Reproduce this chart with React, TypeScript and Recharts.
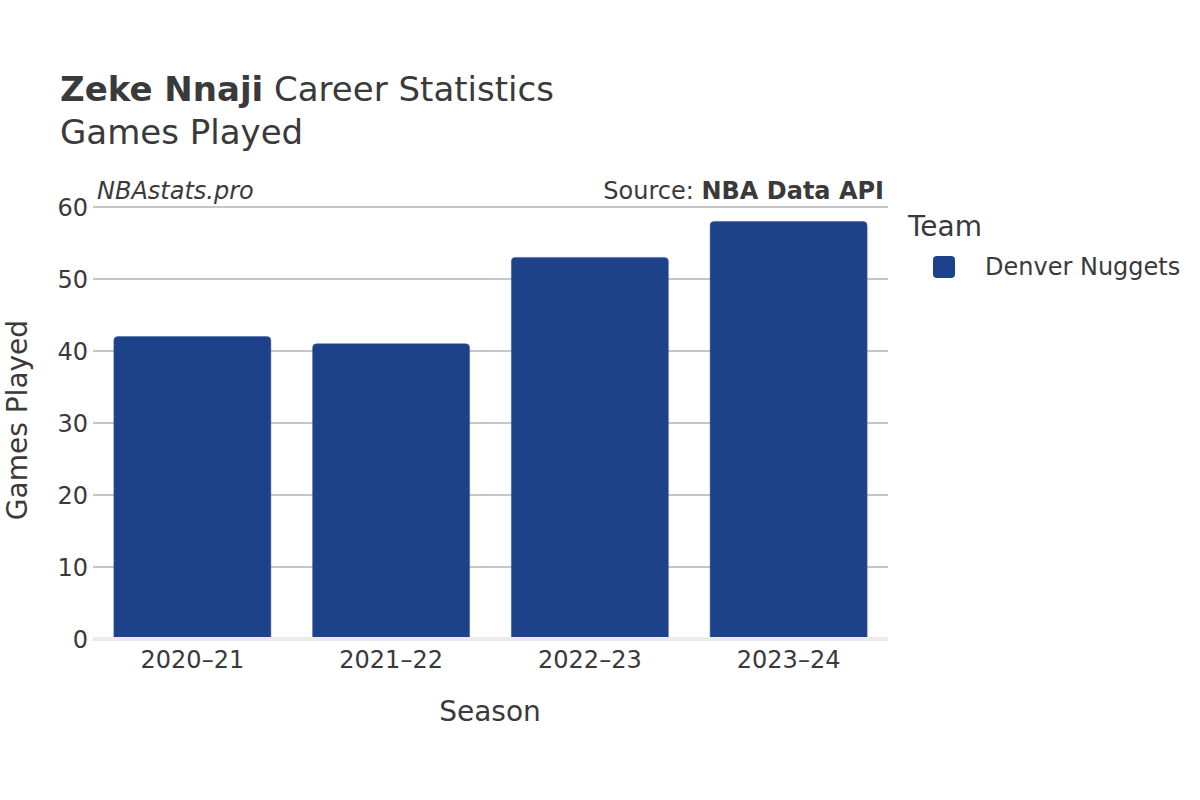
import React from "react";
import { BarChart, Bar, XAxis, YAxis, CartesianGrid, ReferenceLine } from "recharts";

const seasons = ["2020–21", "2021–22", "2022–23", "2023–24"];
const gamesPlayed = [42, 41, 53, 58];
const yTicks = [0, 10, 20, 30, 40, 50, 60];
const teamName = "Denver Nuggets";
const teamColor = "#1D428A";

const data = seasons.map((s, i) => ({ season: s, gp: gamesPlayed[i] }));

const FONT = "'DejaVu Sans', sans-serif";
const TEXT = "#3a3a3a";

export default function App() {
  return (
    <div style={{ position: "absolute", left: 0, top: 0, width: 1200, height: 800, background: "#fff" }}>
      <BarChart
        width={1200}
        height={800}
        data={data}
        margin={{ top: 207, right: 312, bottom: 101, left: 33 }}
        barCategoryGap="10.5%"
      >
        <CartesianGrid vertical={false} stroke="#8c8c8c" strokeWidth={1} />
        <XAxis
          dataKey="season"
          axisLine={false}
          tickLine={false}
          tick={{ fontSize: 24, fill: TEXT, fontFamily: FONT }}
          tickMargin={6}
          height={60}
        />
        <YAxis
          width={60}
          domain={[0, 60]}
          ticks={yTicks}
          axisLine={false}
          tickLine={false}
          tickSize={0}
          tickMargin={5}
          tick={{ fontSize: 24, fill: TEXT, fontFamily: FONT }}
        />
        <ReferenceLine y={0} stroke="#ebebeb" strokeWidth={4} />
        <Bar dataKey="gp" fill={teamColor} stroke="#3a5d9c" strokeWidth={0.5} radius={[4, 4, 0, 0]} isAnimationActive={false} />
      </BarChart>
      <div style={{ position: "absolute", left: 908, top: 211, fontFamily: FONT, color: TEXT }}>
        <div style={{ fontSize: 28, lineHeight: "32px" }}>Team</div>
        <div style={{ display: "flex", alignItems: "center", marginTop: 10, marginLeft: 25 }}>
          <div style={{ width: 22, height: 22, background: teamColor, borderRadius: 4 }} />
          <div style={{ fontSize: 24, marginLeft: 30, whiteSpace: "nowrap" }}>{teamName}</div>
        </div>
      </div>
      <svg width={1200} height={800} style={{ position: "absolute", left: 0, top: 0, pointerEvents: "none" }}>
        <text x={60} y={101} fontFamily={FONT} fontSize={34} fill={TEXT}>
          <tspan fontWeight="bold">Zeke Nnaji</tspan>
          <tspan> Career Statistics</tspan>
        </text>
        <text x={60} y={144} fontFamily={FONT} fontSize={34} fill={TEXT}>Games Played</text>
        <text x={97} y={199} fontFamily={FONT} fontSize={24} fontStyle="italic" fill={TEXT}>NBAstats.pro</text>
        <text x={884} y={199} fontFamily={FONT} fontSize={24} fill={TEXT} textAnchor="end">
          <tspan>Source: </tspan>
          <tspan fontWeight="bold">NBA Data API</tspan>
        </text>
        <text x={490} y={721} fontFamily={FONT} fontSize={28} fill={TEXT} textAnchor="middle">Season</text>
        <text
          x={27}
          y={420}
          fontFamily={FONT}
          fontSize={28}
          fill={TEXT}
          textAnchor="middle"
          transform="rotate(-90 27 420)"
        >
          Games Played
        </text>
      </svg>
    </div>
  );
}
